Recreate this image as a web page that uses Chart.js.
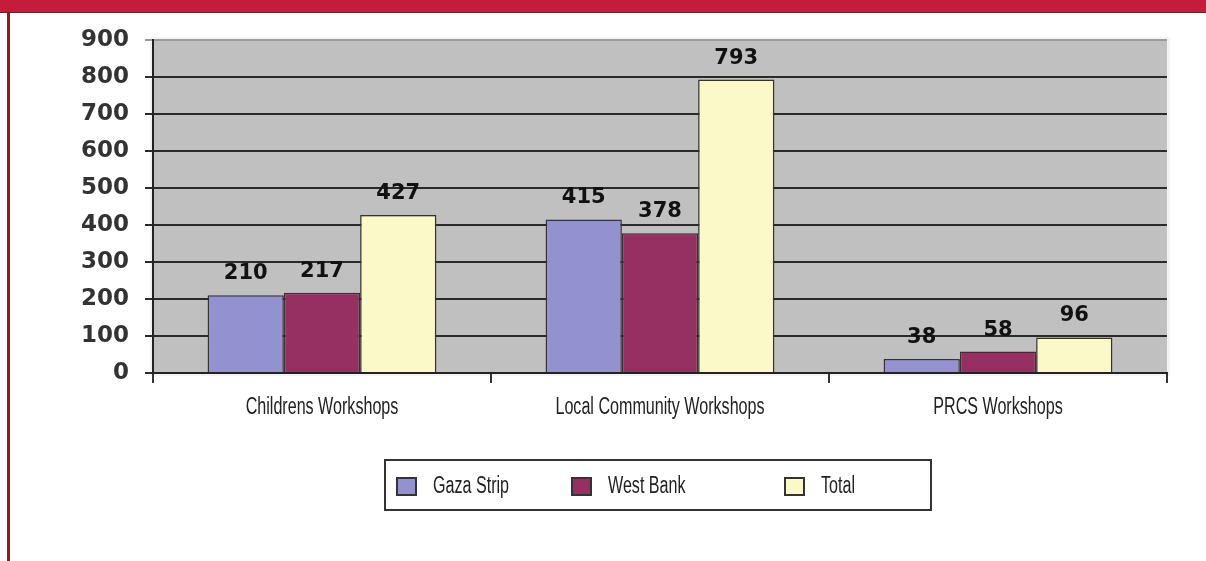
<!DOCTYPE html>
<html>
<head>
<meta charset="utf-8">
<script src="https://cdn.jsdelivr.net/npm/chart.js@4/dist/chart.umd.min.js"></script>
<style>
  html, body { margin: 0; padding: 0; background: #ffffff; }
  #wrap { position: relative; width: 1206px; height: 561px; overflow: hidden; background: #fff; }
  #topbar { position: absolute; left: 0; top: 0; width: 1206px; height: 12px; background: #c41c3a; border-bottom: 1px solid #8e1214; }
  #leftline { position: absolute; left: 7px; top: 13px; width: 3px; height: 548px; background: #9a1a1a; }
  #c { position: absolute; left: 0; top: 0; }
</style>
</head>
<body>
<div id="wrap">
  <div id="topbar"></div>
  <div id="leftline"></div>
  <canvas id="c" width="1206" height="561"></canvas>
</div>
<script>
const categories = ["Childrens Workshops", "Local Community Workshops", "PRCS Workshops"];
const gazaStrip = [210, 415, 38];
const westBank = [217, 378, 58];
const total = [427, 793, 96];
const seriesNames = ["Gaza Strip", "West Bank", "Total"];
const yTicks = [0, 100, 200, 300, 400, 500, 600, 700, 800, 900];

const colors = ["#9391cf", "#962f62", "#fcf9c9"];
const SANS = "'Liberation Sans', Arial, sans-serif";
const BOLD = "'DejaVu Sans', sans-serif";
const SQUEEZE = 0.7;

function narrowText(ctx, text, x, y, align) {
  ctx.save();
  ctx.translate(x, y);
  ctx.scale(SQUEEZE, 1);
  ctx.textAlign = align;
  ctx.fillText(text, 0, 0);
  ctx.restore();
}

const plotBg = {
  id: 'plotBg',
  beforeDraw(chart) {
    const a = chart.chartArea, ctx = chart.ctx;
    ctx.save();
    ctx.fillStyle = '#f4f4f4';
    ctx.fillRect(a.left - 3, a.top - 3, a.right - a.left + 6, a.bottom - a.top + 6);
    ctx.fillStyle = '#c0c0c0';
    ctx.fillRect(a.left, a.top, a.right - a.left, a.bottom - a.top);
    ctx.restore();
  }
};

const valueLabels = {
  id: 'valueLabels',
  afterDatasetsDraw(chart) {
    const ctx = chart.ctx;
    ctx.save();
    ctx.font = "bold 21px " + BOLD;
    ctx.fillStyle = '#111';
    ctx.textAlign = 'center';
    ctx.textBaseline = 'alphabetic';
    chart.data.datasets.forEach((ds, i) => {
      chart.getDatasetMeta(i).data.forEach((bar, j) => {
        ctx.fillText(String(ds.data[j]), bar.x, bar.y - 16);
      });
    });
    ctx.restore();
  }
};

const categoryLabels = {
  id: 'categoryLabels',
  afterDraw(chart) {
    const ctx = chart.ctx, sx = chart.scales.x;
    ctx.save();
    ctx.font = "23px " + SANS;
    ctx.fillStyle = '#222';
    ctx.textBaseline = 'middle';
    chart.data.labels.forEach((lab, i) => {
      narrowText(ctx, lab, sx.getPixelForValue(i), 408, 'center');
    });
    ctx.restore();
  }
};

const boxLegend = {
  id: 'boxLegend',
  afterDraw(chart) {
    const ctx = chart.ctx;
    ctx.save();
    ctx.fillStyle = '#fff';
    ctx.fillRect(385, 460, 546, 50);
    ctx.strokeStyle = '#333';
    ctx.lineWidth = 2;
    ctx.strokeRect(385, 460, 546, 50);
    const sq = [397, 572, 785];
    ctx.font = "23px " + SANS;
    ctx.textBaseline = 'middle';
    chart.data.datasets.forEach((ds, i) => {
      ctx.fillStyle = ds.backgroundColor;
      ctx.fillRect(sq[i], 478, 19, 17);
      ctx.strokeStyle = '#333';
      ctx.lineWidth = 2;
      ctx.strokeRect(sq[i], 478, 19, 17);
      ctx.fillStyle = '#222';
      narrowText(ctx, ds.label, sq[i] + 36, 487, 'left');
    });
    ctx.restore();
  }
};

new Chart(document.getElementById('c'), {
  type: 'bar',
  data: {
    labels: categories,
    datasets: [
      { label: seriesNames[0], data: gazaStrip, backgroundColor: colors[0] },
      { label: seriesNames[1], data: westBank, backgroundColor: colors[1] },
      { label: seriesNames[2], data: total, backgroundColor: colors[2] }
    ].map(d => Object.assign(d, { borderColor: '#333', borderWidth: 1.5, categoryPercentage: 0.677, barPercentage: 1.0 }))
  },
  options: {
    responsive: false,
    animation: false,
    layout: { padding: { left: 0, top: 40, right: 39, bottom: 128 } },
    plugins: { legend: { display: false }, tooltip: { enabled: false } },
    scales: {
      x: {
        afterFit(s) { s.height = 60; },
        grid: { drawOnChartArea: false, drawTicks: true, tickLength: 10, color: '#333', lineWidth: 2, offset: true },
        border: { color: '#222', width: 2 },
        ticks: { display: false }
      },
      y: {
        min: 0, max: 900,
        afterFit(s) { s.width = 153; },
        afterBuildTicks(s) { s.ticks = yTicks.map(v => ({ value: v })); },
        grid: {
          color: ctx => (ctx.tick && ctx.tick.value === 900) ? '#9a9a9a' : '#2a2a2a',
          lineWidth: 2, tickLength: 8, drawTicks: true
        },
        border: { color: '#222', width: 2 },
        ticks: { color: '#333', font: { family: BOLD, size: 23, weight: 'bold' }, padding: 16 }
      }
    }
  },
  plugins: [plotBg, valueLabels, categoryLabels, boxLegend]
});
</script>
</body>
</html>
